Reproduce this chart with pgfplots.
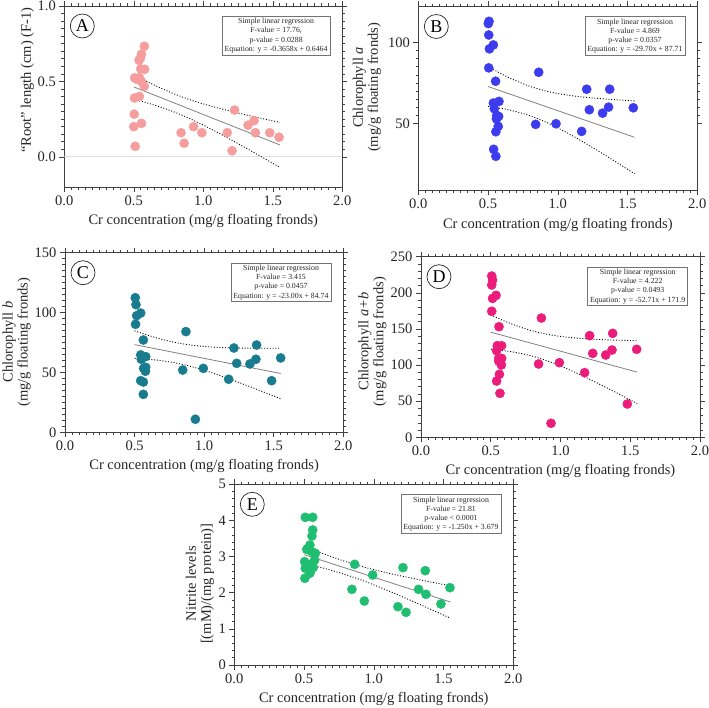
\documentclass[border=0pt]{standalone}
\usepackage{fontspec}
\setmainfont{Liberation Serif}
\usepackage{pgfplots}
\pgfplotsset{compat=1.18}

\definecolor{cA}{RGB}{246,158,158}
\definecolor{cB}{RGB}{60,60,238}
\definecolor{cC}{RGB}{24,124,142}
\definecolor{cD}{RGB}{236,28,122}
\definecolor{cE}{RGB}{32,190,112}

\pgfplotsset{
  panel/.style={
    scale only axis,
    xmin=0, xmax=2, xtick={0,0.5,1,1.5,2},
    minor x tick num=9,
    tick align=outside,
    axis line style={draw=black!75, line width=0.7pt},
    major tick length=5pt, minor tick length=2.8pt,
    every tick/.style={black!75, line width=0.6pt},
    /pgf/number format/assume math mode=true,
    tick label style={font=\fontsize{14.5}{14.5}\selectfont, text=black!85},
    xticklabel style={/pgf/number format/.cd, fixed, fixed zerofill, precision=1},
    label style={font=\fontsize{14.5}{15}\selectfont, text=black!85},
    xlabel={Cr concentration (mg/g floating fronds)},
    xlabel style={at={(axis description cs:0.5,-0.188)}, anchor=center},
    ylabel style={align=center, anchor=center},
  },
  pts/.style={only marks, mark=*, mark size=4.6pt, color=#1,
    mark options={solid, draw=#1, fill=#1, line width=0.4pt, line join=round}},
  fit/.style={black!50, line width=0.8pt},
  band/.style={black, line width=0.85pt, dash pattern=on 1pt off 1.8pt, smooth},
}

% circled panel letter and the regression summary box
\newcommand{\panelletter}[1]{%
  \node[draw=black!85, circle, line width=0.7pt, minimum size=24pt, inner sep=0pt,
        font=\fontsize{18}{18}\selectfont]
    at (axis description cs:0,1) [xshift=18pt, yshift=-20pt] {#1};}
\newcommand{\statbox}[3]{%
  \node[draw=black!55, line width=0.6pt, fill=white, anchor=north east, align=center,
        font=\fontsize{7.8}{9.2}\selectfont, inner xsep=2.5pt, inner ysep=2pt, text=black!85]
    at (axis description cs:1,1) [xshift=-12pt, yshift=-10pt]
    {Simple linear regression\\#1\\#2\\#3};}

\begin{document}
\begin{tikzpicture}
\path[use as bounding box] (0,0) rectangle (709pt,-708pt);

% ---------------- A: root length ----------------
\begin{axis}[panel, at={(64.3pt,-187pt)}, anchor=south west,
  width=278pt, height=181pt,
  ymin=-0.2, ymax=1.0, ytick={0,0.5,1}, minor y tick num=9,
  yticklabel style={/pgf/number format/.cd, fixed, fixed zerofill, precision=1},
  ylabel={“Root” length (cm) (F-1)},
  ylabel style={at={(axis description cs:-0.133,0.59)}}]
\addplot[black!12, line width=0.8pt] coordinates {(0,0) (2,0)};
\addplot[pts=cA] coordinates {
  (0.576,0.733) (0.555,0.680) (0.548,0.655) (0.538,0.640) (0.550,0.583)
  (0.578,0.580) (0.506,0.523) (0.520,0.515) (0.540,0.525) (0.555,0.500)
  (0.575,0.468) (0.505,0.390) (0.540,0.400) (0.503,0.283) (0.500,0.200)
  (0.555,0.222) (0.510,0.070)
  (0.840,0.160) (0.862,0.090) (0.930,0.200) (0.990,0.160) (1.172,0.160)
  (1.207,0.040) (1.225,0.310) (1.322,0.210) (1.365,0.240) (1.375,0.160)
  (1.478,0.160) (1.545,0.130)};
\addplot[fit] coordinates {(0.5,0.4635) (1.55,0.0794)};
\addplot[band] coordinates {(0.5,0.5446) (0.65,0.4745) (0.8,0.4138) (0.95,0.3648)
  (1.1,0.3251) (1.25,0.2906) (1.4,0.2589) (1.55,0.2285)};
\addplot[band] coordinates {(0.5,0.3824) (0.65,0.3427) (0.8,0.2938) (0.95,0.2330)
  (1.1,0.1629) (1.25,0.0876) (1.4,0.0097) (1.55,-0.0697)};
\panelletter{A}
\statbox{F-value = 17.76,}{p-value = 0.0288}{Equation: y = -0.3658x + 0.6464}
\end{axis}

% ---------------- B: chlorophyll a ----------------
\begin{axis}[panel, at={(418.3pt,-190.5pt)}, anchor=south west,
  width=279pt, height=184pt,
  ymin=9, ymax=122, ytick={50,100}, minor y tick num=9,
  ylabel={Chlorophyll \textit{a}\\(mg/g floating fronds)},
  ylabel style={at={(axis description cs:-0.184,0.56)}}]
\addplot[pts=cB] coordinates {
  (0.507,112.9) (0.502,111.5) (0.505,104.5) (0.538,98.4) (0.510,96.0)
  (0.505,84.3) (0.554,76.1) (0.538,62.7) (0.545,59.2) (0.578,63.7)
  (0.562,55.1) (0.576,54.5) (0.560,53.0) (0.573,48.4) (0.556,45.1)
  (0.540,34.3) (0.556,30.0)
  (0.863,81.6) (0.841,49.6) (0.987,50.0) (1.171,45.3) (1.207,71.2)
  (1.226,58.6) (1.321,56.5) (1.364,60.2) (1.372,71.2) (1.541,59.8)};
\addplot[fit] coordinates {(0.5,72.86) (1.55,41.675)};
\addplot[band] coordinates {(0.5,85.03) (0.65,78.30) (0.8,72.95) (0.95,69.39)
  (1.1,67.21) (1.25,65.82) (1.4,64.82) (1.55,64.04)};
\addplot[band] coordinates {(0.5,60.69) (0.65,58.52) (0.8,54.95) (0.95,49.61)
  (1.1,42.87) (1.25,35.36) (1.4,27.44) (1.55,19.31)};
\panelletter{B}
\statbox{F-value = 4.869}{p-value = 0.0357}{Equation: y = -29.70x + 87.71}
\end{axis}

% ---------------- C: chlorophyll b ----------------
\begin{axis}[panel, at={(65pt,-432.3pt)}, anchor=south west,
  width=278.3pt, height=179.6pt,
  ymin=0, ymax=150, ytick={0,50,100,150}, minor y tick num=9,
  ylabel={Chlorophyll \textit{b}\\(mg/g floating fronds)},
  ylabel style={at={(axis description cs:-0.174,0.503)}}]
\addplot[pts=cC] coordinates {
  (0.505,112.4) (0.510,106.6) (0.544,99.6) (0.515,97.4) (0.507,90.2)
  (0.563,77.1) (0.544,64.6) (0.580,63.2) (0.548,61.0) (0.565,53.4)
  (0.580,54.3) (0.578,51.0) (0.544,43.1) (0.563,42.0) (0.563,31.7)
  (0.869,84.1) (0.846,52.0) (0.994,53.4) (0.937,10.9) (1.176,44.3)
  (1.214,70.4) (1.234,57.6) (1.329,57.1) (1.372,61.0) (1.377,72.9)
  (1.485,43.1) (1.550,62.1)};
\addplot[fit] coordinates {(0.5,73.24) (1.55,49.09)};
\addplot[band] coordinates {(0.5,84.73) (0.65,79.13) (0.8,74.84) (0.95,72.23)
  (1.1,70.93) (1.25,70.37) (1.4,70.19) (1.55,70.21)};
\addplot[band] coordinates {(0.5,61.75) (0.65,60.45) (0.8,57.84) (0.95,53.55)
  (1.1,47.95) (1.25,41.61) (1.4,34.89) (1.55,27.97)};
\panelletter{C}
\statbox{F-value = 3.415}{p-value = 0.0457}{Equation: y = -23.00x + 84.74}
\end{axis}

% ---------------- D: chlorophyll a+b ----------------
\begin{axis}[panel, at={(421pt,-437.3pt)}, anchor=south west,
  width=279pt, height=180.6pt,
  ymin=0, ymax=250, ytick={0,50,100,150,200,250}, minor y tick num=4,
  ylabel={Chlorophyll \textit{a+b}\\(mg/g floating fronds)},
  ylabel style={at={(axis description cs:-0.174,0.53)}}]
\addplot[pts=cD] coordinates {
  (0.507,223.2) (0.513,217.7) (0.507,210.8) (0.538,196.5) (0.513,192.3)
  (0.507,174.4) (0.559,153.1) (0.547,126.8) (0.578,126.8) (0.542,119.9)
  (0.557,109.3) (0.578,109.3) (0.557,105.6) (0.576,100.1) (0.562,87.2)
  (0.542,77.9) (0.566,60.9)
  (0.863,165.1) (0.843,101.5) (0.992,103.3) (0.932,19.4) (1.173,89.5)
  (1.209,140.7) (1.231,116.2) (1.324,113.9) (1.369,120.8) (1.374,143.9)
  (1.479,46.1) (1.546,121.8)};
\addplot[fit] coordinates {(0.5,145.545) (1.55,90.20)};
\addplot[band] coordinates {(0.5,169.21) (0.65,156.87) (0.8,147.23) (0.95,141.06)
  (1.1,137.58) (1.25,135.62) (1.4,134.46) (1.55,133.69)};
\addplot[band] coordinates {(0.5,121.89) (0.65,118.41) (0.8,112.23) (0.95,102.60)
  (1.1,90.26) (1.25,76.40) (1.4,61.76) (1.55,46.71)};
\panelletter{D}
\statbox{F-value = 4.222}{p-value = 0.0493}{Equation: y = -52.71x + 171.9}
\end{axis}

% ---------------- E: nitrite ----------------
\begin{axis}[panel, at={(234.3pt,-665pt)}, anchor=south west,
  width=279pt, height=180.7pt,
  ymin=0, ymax=5, ytick={0,1,2,3,4,5}, minor y tick num=4,
  ylabel={Nitrite levels\\{[}(mM)/(mg protein){]}},
  ylabel style={at={(axis description cs:-0.123,0.45)}}]
\addplot[pts=cE] coordinates {
  (0.509,4.087) (0.562,4.087) (0.562,3.736) (0.557,3.570) (0.542,3.320)
  (0.519,3.200) (0.536,3.180) (0.566,3.110) (0.581,3.090) (0.504,2.860)
  (0.576,2.906) (0.556,2.800) (0.509,2.675) (0.566,2.700) (0.542,2.540)
  (0.506,2.400) (0.548,2.620)
  (0.863,2.786) (0.843,2.094) (0.992,2.490) (0.932,1.770) (1.173,1.614)
  (1.231,1.458) (1.209,2.694) (1.321,2.094) (1.369,2.610) (1.374,1.956)
  (1.481,1.688) (1.546,2.140)};
\addplot[fit] coordinates {(0.5,3.054) (1.55,1.7415)};
\addplot[band] coordinates {(0.5,3.297) (0.65,3.064) (0.8,2.859) (0.95,2.689)
  (1.1,2.547) (1.25,2.421) (1.4,2.303) (1.55,2.189)};
\addplot[band] coordinates {(0.5,2.811) (0.65,2.669) (0.8,2.499) (0.95,2.294)
  (1.1,2.061) (1.25,1.812) (1.4,1.555) (1.55,1.294)};
\panelletter{E}
\statbox{F-value = 21.81}{p-value < 0.0001}{Equation: y = -1.250x + 3.679}
\end{axis}
\end{tikzpicture}
\end{document}
